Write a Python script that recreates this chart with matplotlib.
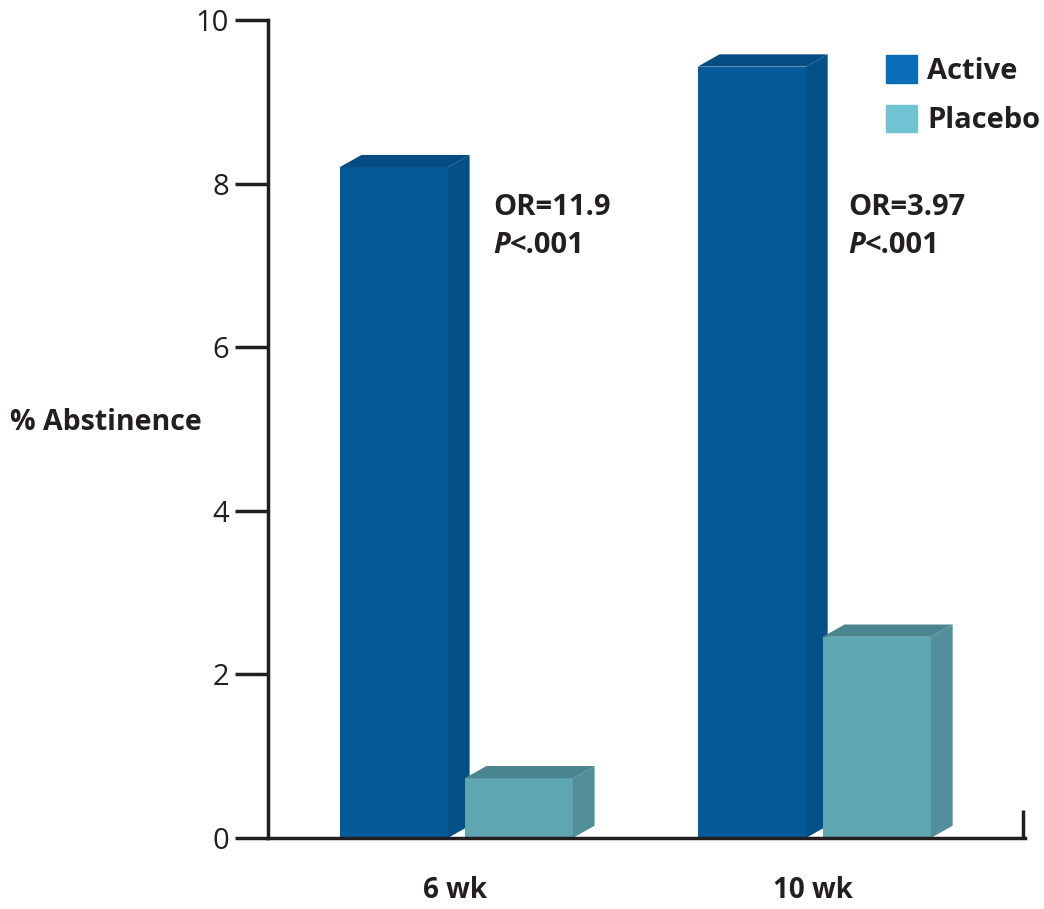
import matplotlib.pyplot as plt
from matplotlib.patches import Patch, Polygon

plt.rcParams['font.family'] = ['Open Sans', 'DejaVu Sans']

groups = ['6 wk', '10 wk']
active = [8.2, 9.43]
placebo = [0.73, 2.46]
odds = ['OR=11.9', 'OR=3.97']

front = {'Active': '#055b9a', 'Placebo': '#5fa6b3'}
side = {'Active': '#045089', 'Placebo': '#528f9b'}
top = {'Active': '#044c82', 'Placebo': '#4b8690'}
legend_col = {'Active': '#0a6db7', 'Placebo': '#6fc3d3'}
ink = '#231f20'

width = 0.302
dx, dy = 0.061, 0.15
off = {'Active': -0.322, 'Placebo': 0.027}

fig = plt.figure(figsize=(10.44, 9.09), dpi=100)
ax = fig.add_axes([0.2567, 0.0781, 0.7251, 0.8999])

for name, vals in [('Active', active), ('Placebo', placebo)]:
    for i, h in enumerate(vals):
        x0 = i + off[name]
        x1 = x0 + width
        ax.bar(x0, h, width=width, align='edge', color=front[name],
               edgecolor='none', zorder=2)
        ax.add_patch(Polygon([(x1, 0), (x1 + dx, dy), (x1 + dx, h + dy), (x1, h)],
                             closed=True, color=side[name], lw=0, zorder=2))
        ax.add_patch(Polygon([(x0, h), (x0 + dx, h + dy), (x1 + dx, h + dy), (x1, h)],
                             closed=True, color=top[name], lw=0, zorder=2))

# OR / P annotations
for i, txt in enumerate(odds):
    xa = i + [0.106, 0.098][i]
    ax.text(xa, 7.71, txt, fontsize=21, fontweight='bold', color=ink,
            ha='left', va='center')
    t = ax.text(xa, 7.24, 'P', fontsize=21, fontweight='bold', style='italic',
                color=ink, ha='left', va='center')
    ax.annotate('<.001', xy=(1, 0), xycoords=t, va='bottom', ha='left',
                fontsize=21, fontweight='bold', color=ink)

xmin, xmax = -0.522, 1.592
ax.set_xlim(xmin, xmax)
ax.set_ylim(0, 10)

ax.spines['top'].set_visible(False)
ax.spines['right'].set_visible(False)
for s in ['left', 'bottom']:
    ax.spines[s].set_linewidth(2.5)
    ax.spines[s].set_color(ink)

ax.set_yticks([0, 2, 4, 6, 8, 10])
ax.tick_params(axis='y', length=24, width=2.5, color=ink,
               labelsize=21, labelcolor=ink, pad=4)
ax.set_xticks([0, 1])
ax.set_xticklabels(groups, fontsize=20, fontweight='bold', color=ink)
ax.tick_params(axis='x', which='major', length=0, pad=27)
ax.set_xticks([xmax - 0.006], minor=True)
ax.tick_params(axis='x', which='minor', direction='in', length=20, width=2.5,
               color=ink)

fig.text(0.01, 0.535, '% Abstinence', fontsize=20.5, fontweight='bold',
         color=ink, ha='left', va='center')

handles = [Patch(color=legend_col['Active'], label='Active'),
           Patch(color=legend_col['Placebo'], label='Placebo')]
leg = fig.legend(handles=handles, loc='upper left', bbox_to_anchor=(0.849, 0.939),
                 frameon=False, prop={'size': 21, 'weight': 'bold'},
                 handlelength=1.05, handleheight=1.05, handletextpad=0.35,
                 labelspacing=0.65, borderaxespad=0, borderpad=0)
for t in leg.get_texts():
    t.set_color(ink)

fig.savefig('out.png', dpi=100, facecolor='white')
